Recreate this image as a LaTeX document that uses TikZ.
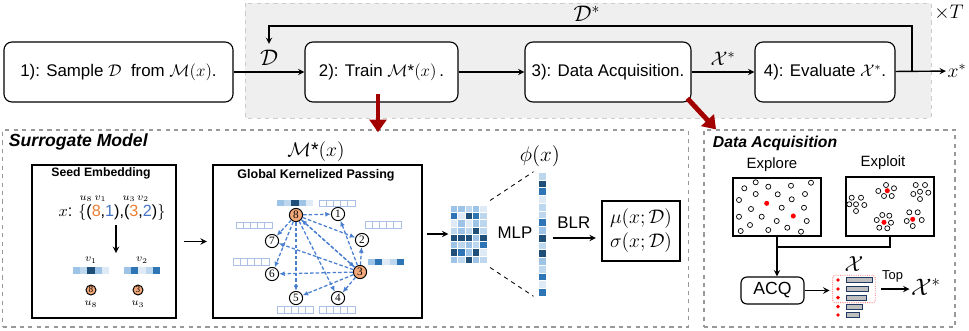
\RequirePackage{fix-cm}
\documentclass[tikz,border=0pt]{standalone}
\usepackage[no-math]{fontspec}
\setmainfont{Liberation Sans}
\newfontfamily\numfont{Liberation Serif}
\usetikzlibrary{arrows.meta}
\definecolor{bl0}{HTML}{DEEBF7}
\definecolor{bl1}{HTML}{BDD7EE}
\definecolor{bl2}{HTML}{9DC3E6}
\definecolor{bl3}{HTML}{2E75B6}
\definecolor{bl4}{HTML}{1F4E79}
\definecolor{orgtxt}{HTML}{ED7D31}
\definecolor{bluetxt}{HTML}{4472C4}
\definecolor{orgfill}{HTML}{F4A97A}
\definecolor{edgeblue}{HTML}{4A7FD0}
\definecolor{darkred}{HTML}{A30000}
\definecolor{bggray}{HTML}{EFEFEF}
\definecolor{barblue}{HTML}{1F3864}

\begin{document}
\begin{tikzpicture}[x=0.025cm, y=-0.025cm, >=stealth,
    stepbox/.style={draw, rounded corners=0.2cm, line width=0.8pt, fill=white, minimum height=1.5cm, inner sep=0pt, font=\fontsize{12}{14}\selectfont},
    panel/.style={draw=black!40, dashed, line width=0.8pt, inner sep=0pt},
    plainbox/.style={draw, line width=0.8pt, inner sep=0pt},
    flow/.style={->, line width=1pt},
    bigarrow/.style={-{Triangle[length=9pt, width=12pt]}, line width=3.5pt, darkred},
    gnode/.style={circle, draw, line width=0.7pt, fill=white, minimum size=0.33cm, inner sep=0pt, font=\numfont\fontsize{8}{8}\selectfont},
    seednode/.style={gnode, fill=orgfill},
    msg/.style={-{Latex[length=4pt, width=3.5pt]}, edgeblue, dash pattern=on 2.5pt off 1.5pt, line width=0.9pt},
    dot/.style={draw, line width=0.5pt, fill=white},
    lbl/.style={inner sep=1pt, font=\fontsize{#1}{#1}\selectfont},
    small/.style={inner sep=0pt, font=\fontsize{7.5}{8}\selectfont}
]
\useasboundingbox (0,0) rectangle (969,330);

% loop region
\draw[fill=bggray, draw=black!20, dashed, line width=0.5pt] (245,3) rectangle (931,118);
\node[lbl=14] (times) at (949,13) {$\times T$};

\node[stepbox, minimum width=5.725cm] (s1) at (118.5,72) {1): Sample $\mathcal{D}$\ \ from $\mathcal{M}(x)$.};
\node[stepbox, minimum width=3.825cm] (s2) at (381.5,72) {2): Train $\mathcal{M}$*$(x)$\,.};
\node[stepbox, minimum width=4.15cm] (s3) at (608,72) {3): Data Acquisition.};
\node[stepbox, minimum width=3.5cm] (s4) at (825,72) {4): Evaluate $\mathcal{X}^*$.};
\node[lbl=14] (xout) at (957,71) {$x^*$};

\draw[flow] (s1) -- (s2) node[lbl=16, midway, above=3pt] (dlab) {$\mathcal{D}$};
\draw[flow] (s2) -- (s3);
\draw[flow] (s3) -- (s4) node[lbl=14, midway, above=3pt] (xlabtop) {$\mathcal{X}^*$};
\draw[flow] (s4) -- (xout);
\coordinate (fb) at (912,72);
\coordinate (fbtop) at (912,26);
\draw[flow, shorten >=3pt] (fb) -- (fbtop) -| (dlab.north);
\node[lbl=16] (dstar) at (587,14) {$\mathcal{D}^*$};

% panels
\node[panel, minimum width=17.125cm, minimum height=4.925cm] (smpanel) at (345.5,228.5) {};
\node[panel, minimum width=6.275cm, minimum height=4.925cm] (dapanel) at (829.5,228.5) {};
\node[anchor=west, font=\bfseries\itshape\fontsize{12.5}{14}\selectfont] (smtitle) at (4,142) {Surrogate Model};
\node[anchor=west, font=\bfseries\itshape\fontsize{11.2}{13}\selectfont] (datitle) at (708,143) {Data Acquisition};

\draw[bigarrow] ([xshift=-2.5pt, yshift=6pt]s2.south) -- ([xshift=-2.5pt, yshift=-2pt]s2.south |- smpanel.north);
\draw[bigarrow] ([shift={(-3pt,3pt)}]s3.south east) -- ([xshift=9pt]dapanel.north west);

% seed embedding
\node[plainbox, minimum width=3.6cm, minimum height=3.825cm] (seedbox) at (104,241.5) {};
\node[font=\bfseries\fontsize{8.7}{10}\selectfont] (seedtitle) at (101,173) {Seed Embedding};
\node[inner sep=0pt, font=\fontsize{11.5}{13}\selectfont] (tup) at (112,212.5) {$x$: $\{$(\textcolor{orgtxt}{8},\textcolor{bluetxt}{1}),(\textcolor{orgtxt}{3},\textcolor{bluetxt}{2})$\}$};
\node[small] (tu8) at (86,198.5) {$u_8$};
\node[small] (tv1) at (100.5,198.5) {$v_1$};
\node[small] (tu3) at (129,198.5) {$u_3$};
\node[small] (tv2) at (143,198.5) {$v_2$};
\coordinate (emb) at (116,253);
\draw[flow, shorten <=3pt] (tup.south -| emb) -- (emb);
\node[small] (ev1) at (91,260) {$v_1$};
\node[small] (ev2) at (142,260) {$v_2$};
\foreach \bx/\by in {73/267, 277/199.5}
  \foreach \v [count=\c from 0] in {2,1,4,2,0}
    \fill[fill=bl\v] (\bx+7.2*\c,\by) rectangle ++(7.2,6.5);
\foreach \bx/\by in {124/267, 368/258.5}
  \foreach \v [count=\c from 0] in {2,3,0,1,3}
    \fill[fill=bl\v] (\bx+7.2*\c,\by) rectangle ++(7.2,6.5);
\node[seednode, minimum size=0.25cm, font=\numfont\fontsize{6.5}{7}\selectfont] (e8) at (91,290) {8};
\node[seednode, minimum size=0.25cm, font=\numfont\fontsize{6.5}{7}\selectfont] (e3) at (138,290) {3};
\node[small] (eu8) at (91,304) {$u_8$};
\node[small] (eu3) at (138,304) {$u_3$};

% kernelized passing
\node[plainbox, minimum width=5.225cm, minimum height=3.825cm] (gkp) at (317.5,241.5) {};
\node[font=\bfseries\fontsize{8.9}{10}\selectfont] (gkptitle) at (316,175) {Global Kernelized Passing};
\node[lbl=14] (mstar) at (316,152) {$\mathcal{M}$*$(x)$};
\draw[flow, shorten <=5pt, shorten >=4pt] (seedbox) -- (gkp);

\foreach \bx/\by in {319/200, 236/222, 365/221.5, 233/258.5, 277/306.5, 319/306.5}
  \foreach \c in {0,...,4}
    \draw[draw=bluetxt!45, fill=white, line width=0.5pt] (\bx+7.2*\c,\by) rectangle ++(7.2,6.5);

\foreach \n/\x/\y in {1/338/214, 2/362/240, 4/338/298, 5/296/298, 6/272/274, 7/272/241}
  \node[gnode] (g\n) at (\x,\y) {\n};
\node[seednode] (g8) at (296,215) {8};
\node[seednode] (g3) at (360,272) {3};
\foreach \t in {1,2,3,4,5,6,7}
  \draw[msg] (g8) -- (g\t);
\foreach \t in {1,2,4,5,6,7,8}
  \draw[msg] (g3) -- (g\t);

% features
\node[inner sep=0pt, minimum width=0.925cm, minimum height=1.45cm] (hm) at (468.5,234) {};
\foreach \row [count=\r from 0] in {{2,2,1,2,0},{3,0,4,3,1},{0,2,0,2,1},{1,2,1,4,1},{4,4,4,2,4},{2,1,2,1,3},{4,3,2,4,0},{2,1,4,2,1}}
  \foreach \v [count=\c from 0] in \row
    \fill[fill=bl\v, draw=white, line width=0.2pt] (450+7.4*\c,205+7.25*\r) rectangle ++(7.4,7.25);
\draw[flow, shorten <=3pt, shorten >=1pt] (gkp.east |- hm.west) -- (hm.west);

\node[inner sep=0pt, minimum width=0.2cm, minimum height=3.1cm] (phi) at (542,234) {};
\foreach \v [count=\r from 0] in {1,4,3,0,1,1,3,2,4,1,4,2,1,3,0,3}
  \fill[fill=bl\v, draw=white, line width=0.2pt] (538,172+7.75*\r) rectangle ++(8,7.75);
\node[lbl=15] (philab) at (540,156) {$\phi(x)$};
\draw[dashed, line width=0.6pt] ([shift={(2pt,3pt)}]hm.north east) -- ([xshift=-3pt]phi.north west);
\draw[dashed, line width=0.6pt] ([shift={(2pt,-3pt)}]hm.south east) -- ([xshift=-3pt]phi.south west);
\node[font=\fontsize{12}{14}\selectfont] (mlp) at (515,233) {MLP};

\node[plainbox, minimum width=1.95cm, minimum height=1.5cm, align=center, font=\fontsize{14}{17}\selectfont] (out) at (641,231) {$\mu(x;\mathcal{D})$\\$\sigma(x;\mathcal{D})$};
\draw[flow, shorten <=5pt, shorten >=4pt] (phi.east |- 0,238) -- (out.west |- 0,238) node[midway, above=3pt, font=\fontsize{12}{14}\selectfont] (blr) {BLR};

% acquisition
\node[font=\fontsize{10.6}{12}\selectfont] (explab) at (772,165) {Explore};
\node[font=\fontsize{10.6}{12}\selectfont] (exlab) at (883,163) {Exploit};
\node[plainbox, minimum width=2.2cm, minimum height=1.45cm] (expl) at (777,207) {};
\node[plainbox, minimum width=2.2cm, minimum height=1.475cm] (explt) at (890,206.5) {};
\foreach \x/\y in {755.7/182.3, 768.3/186.7, 791/185.7, 811/182.7, 744.3/188.3, 755.7/194, 777.7/194.3, 805/194, 739/200, 791.7/199.3, 751/209, 781.7/207.7, 804/207.7, 739/216.7, 761.7/216.7, 776.7/221, 806.7/221, 750/225, 768.3/230, 787.3/227.7, 801/231.7, 740.7/231,
    851.7/197.7, 861/197.7, 849.3/204.3, 856/204.3, 864.3/205, 856/211,
    878.3/191, 886/185, 894/188.3, 884/196, 891.7/196,
    915.7/185, 925/185, 913.3/194, 920/191.7, 928.3/192.7, 920/199,
    882.3/215, 889.3/215.7, 876.7/220, 891/222.7, 879.3/227.7, 887.3/228.3,
    909.3/212.3, 917.7/212.3, 906.7/221, 921.7/220, 912.7/226}
  \draw[dot] (\x,\y) circle (1.8pt);
\foreach \x/\y in {766.7/203.3, 793.3/216, 887.3/190.7, 884/222.3, 912.7/219.3}
  \fill[red] (\x,\y) circle (1.8pt);

\node[draw, rounded corners=0.15cm, line width=0.8pt, minimum width=1.575cm, minimum height=0.675cm, font=\fontsize{12.5}{14}\selectfont] (acq) at (772.5,290.5) {ACQ};
\draw[line width=1pt] (explt.south) |- (expl.south |- 0,247);
\draw[flow] (expl.south) -- (expl.south |- acq.north);

\node[draw=red!70, densely dotted, rounded corners=2pt, line width=0.6pt, minimum width=1.06cm, minimum height=0.69cm] (lst) at (854,289) {};
\foreach \y/\e in {280/872, 289/868, 297.7/866, 306.7/862, 315/859} {
  \fill[red] (838,\y) circle (1.4pt);
  \draw[fill=black!25, draw=barblue, line width=0.6pt] (846,\y-2.3) rectangle (\e,\y+2.3);
}
\node[lbl=15.5] (xlab) at (854,264) {$\mathcal{X}$};
\draw[flow, shorten >=2pt] (acq.east) -- (lst.west |- acq.east);
\node[lbl=17] (xs2) at (926,287) {$\mathcal{X}^*$};
\draw[flow, shorten <=4pt] (lst.east |- 0,289) -- (xs2.west |- 0,289) node[midway, above=1pt, font=\fontsize{9.2}{11}\selectfont] (top) {Top};
\end{tikzpicture}
\end{document}
